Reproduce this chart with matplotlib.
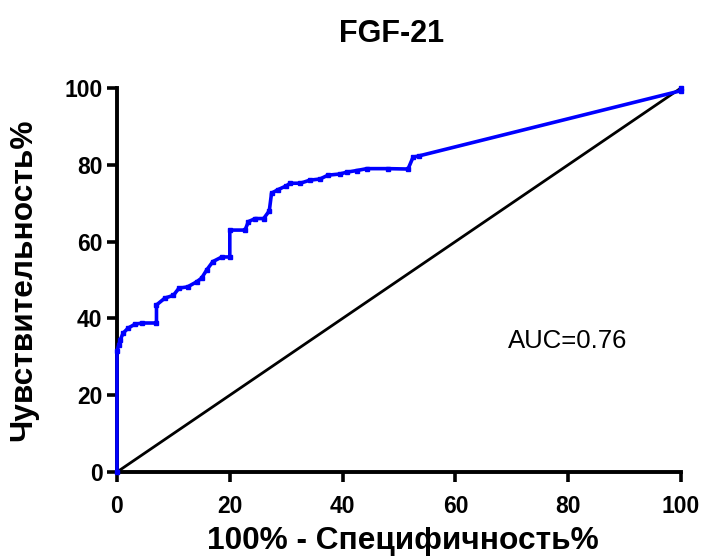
import matplotlib
matplotlib.use("Agg")
import matplotlib.pyplot as plt

plt.rcParams['font.family'] = ['Liberation Sans', 'DejaVu Sans']

fpr = [0, 0, 0.3, 0.6, 1.1, 2.0, 3.2, 4.5, 7.0, 7.0, 8.5, 10.0, 11.0, 12.5, 14.1,
       15.0, 15.9, 17.0, 18.6, 20.0, 20.0, 22.7, 23.3, 24.5, 26.0, 27.0, 27.4, 28.5,
       30.0, 30.7, 32.5, 34.2, 36.0, 37.4, 39.5, 40.8, 42.5, 44.3, 48.0, 51.6, 52.5,
       53.5, 100, 100]
tpr = [0, 31.5, 33.0, 34.5, 36.2, 37.5, 38.5, 38.8, 38.8, 43.5, 45.3, 46.0, 47.9, 48.2,
       49.5, 50.5, 52.6, 54.8, 56.0, 56.0, 63.0, 63.0, 65.2, 66.0, 66.0, 68.0, 72.6, 73.5,
       74.5, 75.2, 75.2, 76.0, 76.3, 77.3, 77.6, 78.1, 78.5, 79.0, 79.0, 78.9, 82.0,
       82.3, 99.3, 100]
diag = [0, 100]
ticks = [0, 20, 40, 60, 80, 100]
title = "FGF-21"
xlabel = "100% - Специфичность%"
ylabel = "Чувствительность%"
auc_text = "AUC=0.76"

fig = plt.figure(figsize=(7.05, 5.6), dpi=100)
ax = fig.add_axes([117/705, 1-472/560, (681-117)/705, (472-88)/560])

ax.plot(diag, diag, color='black', lw=2.0, clip_on=False, zorder=2)
ax.plot(fpr, tpr, color='#0000ff', lw=2.6, marker='s', markersize=3,
        clip_on=False, zorder=3)

ax.set_xlim(0, 100)
ax.set_ylim(0, 100)
ax.set_xticks(ticks)
ax.set_yticks(ticks)
ax.set_xticklabels([str(t) for t in ticks], fontsize=16.5, fontweight='bold')
ax.set_yticklabels([str(t) for t in ticks], fontsize=16.5, fontweight='bold')
for s in ['top', 'right']:
    ax.spines[s].set_visible(False)
for s in ['left', 'bottom']:
    ax.spines[s].set_linewidth(2.8)
ax.tick_params(direction='out', length=7.5, width=2.6)
ax.tick_params(axis='x', pad=9)
ax.tick_params(axis='y', pad=3)

ax.set_xlabel(xlabel, fontsize=22.8, fontweight='bold')
ax.set_ylabel(ylabel, fontsize=22.8, fontweight='bold')
ax.xaxis.set_label_coords(0.506, -0.140)
ax.yaxis.set_label_coords(-0.140, 0.5)
fig.text(391.5/705, 1-42/560, title, fontsize=22, fontweight='bold',
         ha='center', va='baseline')
ax.text(69.3, 32.3, auc_text, fontsize=18.5, ha='left', va='baseline')

fig.savefig("out.png", dpi=100)
